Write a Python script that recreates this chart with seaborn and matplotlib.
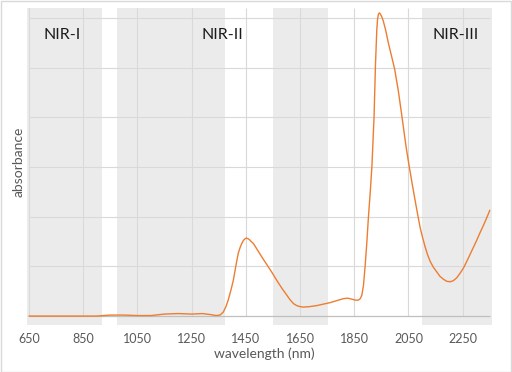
import matplotlib
matplotlib.use("Agg")
import matplotlib.pyplot as plt
import seaborn as sns
import pandas as pd
from matplotlib.patches import Rectangle

# ---- data ----
wavelength = [650, 750, 850, 900, 950, 1000, 1050, 1100, 1150, 1200, 1250, 1290, 1320,
              1340, 1355, 1367, 1376, 1385, 1395, 1404, 1413, 1422, 1429, 1435, 1441,
              1446, 1452, 1457, 1463, 1468, 1478, 1493, 1509, 1527, 1545, 1564, 1583,
              1600, 1613, 1626, 1638, 1650, 1662, 1686, 1711, 1736, 1761, 1785, 1810,
              1826, 1841, 1855, 1865, 1872, 1878, 1884, 1890, 1896, 1902, 1909, 1915,
              1923, 1928, 1933, 1936, 1939, 1942, 1945, 1948, 1951, 1957, 1966, 1976,
              1988, 1999, 2012, 2025, 2041, 2053, 2064, 2074, 2084, 2093, 2102, 2111,
              2120, 2130, 2142, 2154, 2166, 2179, 2191, 2203, 2215, 2228, 2240, 2253,
              2265, 2277, 2290, 2302, 2314, 2326, 2338, 2350]
absorbance = [0.0, 0.0, 0.0, 0.0, 0.02, 0.02, 0.01, 0.01, 0.04, 0.05, 0.04, 0.05, 0.03,
              0.01, 0.02, 0.08, 0.18, 0.32, 0.52, 0.72, 1.0, 1.26, 1.38, 1.46, 1.52,
              1.55, 1.57, 1.56, 1.54, 1.51, 1.46, 1.33, 1.19, 1.04, 0.89, 0.72, 0.56,
              0.43, 0.33, 0.25, 0.21, 0.19, 0.18, 0.19, 0.21, 0.24, 0.27, 0.31, 0.35,
              0.36, 0.34, 0.32, 0.32, 0.35, 0.42, 0.62, 1.0, 1.45, 1.97, 2.5, 3.0,
              4.01, 5.02, 5.75, 5.98, 6.07, 6.10, 6.09, 6.06, 6.03, 5.94, 5.75, 5.49,
              5.22, 4.97, 4.55, 4.05, 3.41, 3.0, 2.65, 2.34, 2.04, 1.78, 1.58, 1.40,
              1.24, 1.10, 0.98, 0.89, 0.80, 0.74, 0.70, 0.69, 0.71, 0.77, 0.86, 0.97,
              1.10, 1.24, 1.39, 1.53, 1.68, 1.82, 1.97, 2.13]
bands = [(643, 919), (975, 1373), (1550, 1753), (2100, 2358)]
band_labels = ["NIR-I", "NIR-II", "NIR-III"]
band_label_x = [772, 1362, 2222]
xticks = [650, 850, 1050, 1250, 1450, 1650, 1850, 2050, 2250]

sns.set_theme(style="white")
plt.rcParams['font.family'] = ['Lato', 'DejaVu Sans']

fig = plt.figure(figsize=(5.12, 3.72), dpi=100)
ax = fig.add_axes([27 / 512, (372 - 325) / 372, (492 - 27) / 512, (325 - 8) / 372])

df = pd.DataFrame({"wavelength": wavelength, "absorbance": absorbance})

for x0, x1 in bands:
    ax.axvspan(x0, x1, color="#EBEBEB", zorder=0, lw=0)

ymin, ymax = -0.18, 6.2
for g in range(1, 7):
    ax.hlines(g, 650, 2350, color="#D9D9D9", lw=0.8, zorder=1)
for t in xticks:
    ax.vlines(t, 0, ymax, color="#D9D9D9", lw=0.8, zorder=1)
ax.hlines(0, 650, 2350, color="#BFBFBF", lw=0.9, zorder=1)

sns.lineplot(data=df, x="wavelength", y="absorbance", ax=ax, color="#ED7D31",
             lw=1.0, zorder=3)

ax.set_xlim(643, 2358)
ax.set_ylim(ymin, ymax)
ax.set_yticks([])
ax.set_xticks(xticks)
ax.set_xticklabels([str(t) for t in xticks], fontsize=9, color="#595959")
ax.tick_params(axis="x", length=0, pad=6)
for s in ax.spines.values():
    s.set_visible(False)
ax.set_xlabel("")
ax.set_ylabel("")

for lab, lx in zip(band_labels, band_label_x):
    ax.text(lx, 5.66, lab, ha="center", va="center", fontsize=11.5, color="#1a1a1a")

fig.text(264 / 512, 1 - 354 / 372, "wavelength (nm)", ha="center", va="center",
         fontsize=10, color="#595959")
fig.text(19 / 512, 1 - 162 / 372, "absorbance", ha="center", va="center",
         rotation=90, fontsize=10, color="#595959")

fig.patches.append(Rectangle((0.5 / 512, 0.5 / 372), 1 - 1.5 / 512, 1 - 1.5 / 372,
                             transform=fig.transFigure, fill=False,
                             edgecolor="#D9D9D9", lw=1))

fig.savefig("out.png", dpi=100)
